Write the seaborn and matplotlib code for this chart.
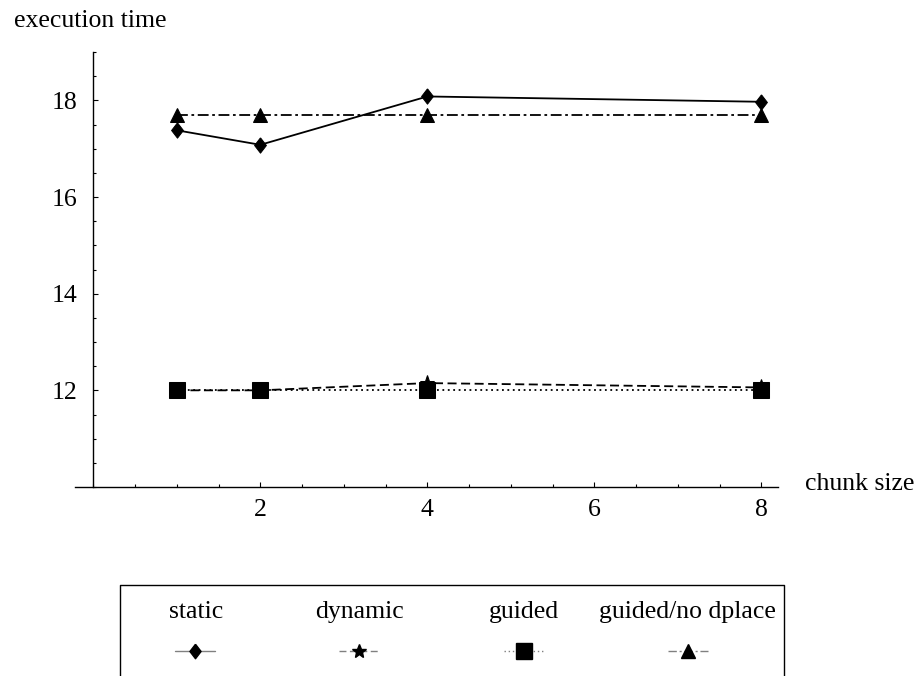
import matplotlib
matplotlib.use("Agg")
import matplotlib.pyplot as plt
import seaborn as sns
from matplotlib.ticker import MultipleLocator
from matplotlib.lines import Line2D

sns.set_theme(style="white")
plt.rcParams["font.family"] = ["Liberation Serif", "DejaVu Serif"]
plt.rcParams["text.color"] = "black"
plt.rcParams["xtick.color"] = "black"
plt.rcParams["ytick.color"] = "black"

# chunk sizes and execution times per scheduling policy
chunk = [1, 2, 4, 8]
static = [17.38, 17.08, 18.08, 17.97]
dynamic = [12.0, 12.0, 12.15, 12.06]
guided = [12.0, 12.0, 12.0, 12.0]
guided_nodplace = [17.7, 17.7, 17.7, 17.7]

labels = ["static", "dynamic", "guided", "guided/no dplace"]

FS = 18.5
diamond = [(0, 1), (0.77, 0), (0, -1), (-0.77, 0), (0, 1)]

fig = plt.figure(figsize=(9.18, 6.76), dpi=100)
ax = fig.add_axes([75 / 918, 189 / 676, 703 / 918, 435 / 676])

lw = 1.3
styles = [
    (static, "-", diamond, 11),
    (dynamic, (0, (5, 2.5)), "*", 11),
    (guided, (0, (1, 2)), "s", 12),
    (guided_nodplace, (0, (6, 2, 1.5, 2)), "^", 10),
]
# dynamic underneath guided so the squares cover the stars
for idx in [0, 3, 1, 2]:
    vals, ls, mk, ms = styles[idx]
    sns.lineplot(x=chunk, y=vals, ax=ax, color="black", linestyle=ls,
                 linewidth=lw, marker=mk, markersize=ms,
                 markeredgecolor="black", markerfacecolor="black")

ax.set_xlim(-0.22, 8.2)
ax.set_ylim(10, 19)
ax.spines["top"].set_visible(False)
ax.spines["right"].set_visible(False)
ax.spines["left"].set_position(("data", 0))
for s in ["left", "bottom"]:
    ax.spines[s].set_color("black")
    ax.spines[s].set_linewidth(1.0)

ax.set_xticks([2, 4, 6, 8])
ax.set_yticks([12, 14, 16, 18])
ax.xaxis.set_minor_locator(MultipleLocator(0.5))
ax.yaxis.set_minor_locator(MultipleLocator(0.5))
ax.tick_params(which="both", direction="in", bottom=True, left=True,
               color="black", width=0.8, labelsize=FS, labelcolor="black")
ax.tick_params(which="major", length=3.6)
ax.tick_params(which="minor", length=2.5)
ax.tick_params(axis="x", which="major", pad=9)
ax.tick_params(axis="y", which="major", pad=11.5)
ax.grid(False)

fig.text(14 / 918, 1 - 27 / 676, "execution time", fontsize=FS,
         ha="left", va="baseline")
fig.text(805 / 918, 1 - 490 / 676, "chunk size", fontsize=FS,
         ha="left", va="baseline")

# legend table: labels on top, sample line+marker underneath
LW, LH = 664, 91
lax = fig.add_axes([120 / 918, 0, LW / 918, LH / 676])
lax.set_xlim(0, LW)
lax.set_ylim(0, LH)
lax.axis("off")
lax.add_line(Line2D([0, 0, LW, LW], [0, LH, LH, 0], color="black",
                    lw=1.0, clip_on=False))
label_x = [76, 240, 404, 567]
mark_x = [75, 239, 404, 568]
for i, name in enumerate(labels):
    vals, ls, mk, ms = styles[i]
    lax.text(label_x[i], 64, name, fontsize=FS, ha="center", va="center")
    lax.plot([mark_x[i] - 20, mark_x[i] + 20], [25, 25], color="gray",
             linestyle=ls, linewidth=1.0)
    lax.plot([mark_x[i]], [25], marker=mk, color="black",
             markersize=ms * 0.95, linestyle="none")

fig.savefig("out.png", dpi=100, facecolor="white")
